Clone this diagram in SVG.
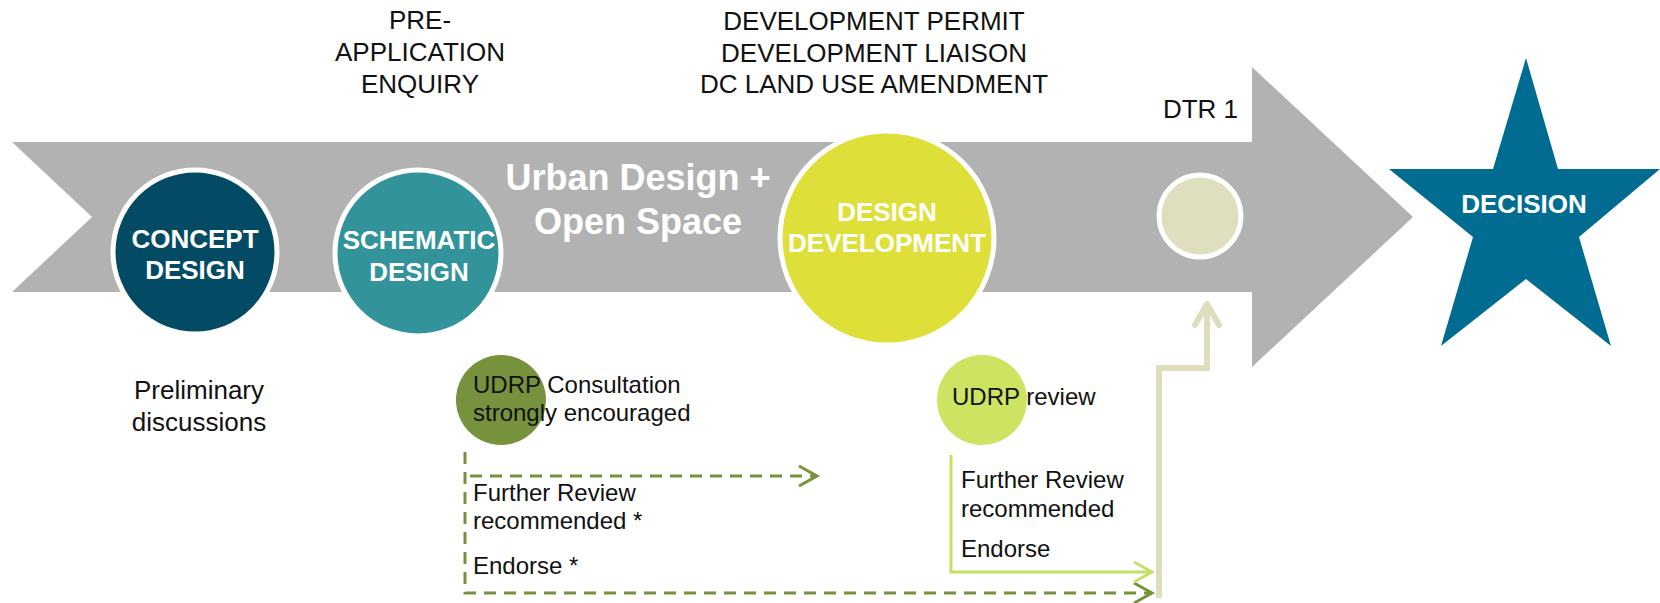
<svg xmlns="http://www.w3.org/2000/svg" width="1660" height="603" viewBox="0 0 1660 603">
<defs>
<style>
text{font-family:"Liberation Sans",Arial,sans-serif;}
.lbl{font-size:26px;fill:#111;}
.w{font-size:26px;font-weight:bold;fill:#fff;text-anchor:middle;}
.sm{font-size:24px;fill:#111;}
.big{font-size:36px;font-weight:bold;fill:#fff;text-anchor:middle;}
.mid{text-anchor:middle;}
</style>
<marker id="olv" markerWidth="24" markerHeight="24" refX="20" refY="12" orient="auto" markerUnits="userSpaceOnUse"><path d="M2,2 L20,12 L2,22" fill="none" stroke="#76923c" stroke-width="3"/></marker>
<marker id="lim" markerWidth="24" markerHeight="24" refX="20" refY="12" orient="auto" markerUnits="userSpaceOnUse"><path d="M2,2 L20,12 L2,22" fill="none" stroke="#c5e066" stroke-width="3"/></marker>
<marker id="pal" markerWidth="30" markerHeight="30" refX="25" refY="15" orient="auto" markerUnits="userSpaceOnUse"><path d="M4,3 L25,15 L4,27" fill="none" stroke="#deddbd" stroke-width="6" stroke-linecap="round" stroke-linejoin="round"/></marker>
</defs>
<rect width="1660" height="603" fill="#fff"/>
<g id="main-arrow"><polygon points="12,142 1252,142 1252,67 1413,217 1252,367 1252,292 12,292 92,217" fill="#b2b2b2"/></g>
<g id="urban-design-label"><text class="big" x="638" y="190">Urban Design +</text><text class="big" x="638" y="234">Open Space</text></g>
<g id="top-labels">
<text class="lbl mid" x="420" y="29">PRE-</text>
<text class="lbl mid" x="420" y="61">APPLICATION</text>
<text class="lbl mid" x="420" y="93">ENQUIRY</text>
<text class="lbl mid" x="874" y="30">DEVELOPMENT PERMIT</text>
<text class="lbl mid" x="874" y="62">DEVELOPMENT LIAISON</text>
<text class="lbl mid" x="874" y="93">DC LAND USE AMENDMENT</text>
<text class="lbl" x="1238" y="118" text-anchor="end">DTR 1</text>
</g>
<g id="concept-design"><circle cx="195" cy="252" r="82" fill="#034b64" stroke="#fff" stroke-width="5"/><text class="w" x="195" y="248">CONCEPT</text><text class="w" x="195" y="279">DESIGN</text></g>
<g id="schematic-design"><circle cx="418" cy="253" r="83" fill="#33939b" stroke="#fff" stroke-width="5"/><text class="w" x="419" y="249">SCHEMATIC</text><text class="w" x="419" y="281">DESIGN</text></g>
<g id="design-development"><circle cx="887" cy="238" r="107" fill="#dfdf3a" stroke="#fff" stroke-width="5"/><text class="w" x="887" y="221">DESIGN</text><text class="w" x="887" y="252">DEVELOPMENT</text></g>
<g id="dtr1"><circle cx="1200" cy="216" r="41" fill="#dfdfbf" stroke="#fff" stroke-width="5"/></g>
<g id="decision"><polygon points="1526,58 1558,169 1660,169 1579,237 1611,346 1526,279 1441,346 1473,237 1389,169 1493,169" fill="#006c91"/><text class="w" x="1524" y="213">DECISION</text></g>
<g id="preliminary"><text class="lbl mid" x="199" y="399">Preliminary</text><text class="lbl mid" x="199" y="431">discussions</text></g>
<g id="udrp-consultation"><circle cx="501" cy="400" r="45" fill="#76923c"/><text class="sm" x="473" y="393">UDRP Consultation</text><text class="sm" x="473" y="421">strongly encouraged</text></g>
<g id="udrp-review"><circle cx="982" cy="400" r="45" fill="#cde462"/><text class="sm" x="952" y="405">UDRP review</text></g>
<g id="outcome-labels">
<text class="sm" x="473" y="501">Further Review</text>
<text class="sm" x="473" y="529">recommended *</text>
<text class="sm" x="473" y="574">Endorse *</text>
<text class="sm" x="961" y="488">Further Review</text>
<text class="sm" x="961" y="517">recommended</text>
<text class="sm" x="961" y="557">Endorse</text>
</g>
<g id="connectors" fill="none">
<path d="M465,452 L465,593 L1152,593" stroke="#76923c" stroke-width="3" stroke-dasharray="12,8" marker-end="url(#olv)"/>
<path d="M470,476 L817,476" stroke="#76923c" stroke-width="3" stroke-dasharray="12,8" marker-end="url(#olv)"/>
<path d="M951,455 L951,572 L1152,572" stroke="#c5e066" stroke-width="3" marker-end="url(#lim)"/>
<path d="M1159,598 L1159,368 L1207,368 L1207,304" stroke="#deddbd" stroke-width="6" marker-end="url(#pal)"/>
</g>
</svg>
